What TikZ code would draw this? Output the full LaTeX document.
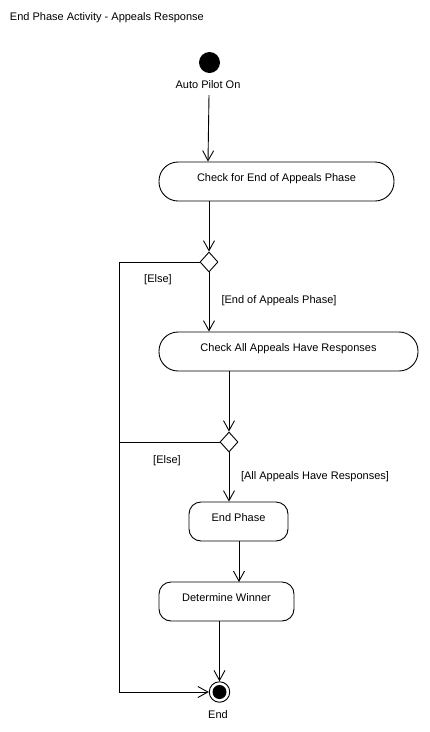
\documentclass[tikz,border=0pt]{standalone}
\usepackage{fontspec}
\setmainfont{Liberation Sans}
\usetikzlibrary{arrows.meta,shapes.geometric}
\begin{document}
\begin{tikzpicture}[x=1pt,y=-1pt,line width=0.9pt,
  every node/.style={font=\fontsize{11}{13}\selectfont,inner sep=0pt},
  bigact/.style={draw,rounded corners=19pt,minimum height=39pt,align=center,text height=8pt,text depth=8.5pt},
  smallact/.style={draw,rounded corners=12pt,minimum height=39pt,align=center,text height=8pt,text depth=8.5pt},
  dec/.style={draw,diamond,minimum width=18pt,minimum height=20pt,inner sep=0pt},
  arr/.style={-{Straight Barb[length=10pt,width=11pt,line width=0.9pt]}},
  lbl/.style={text=black}]
\fill[white] (0,0) rectangle (430,732);
\useasboundingbox (0,0) rectangle (430,732);
\node[anchor=west,lbl] (title) at (9.5,18) {End Phase Activity - Appeals Response};
\node[circle,fill=black,minimum size=21pt] (start) at (209.5,62.5) {};
\node[lbl] (startlbl) at (208,85) {Auto Pilot On};
\node[bigact,minimum width=235pt] (b1) at (276.5,181.5) {Check for End of Appeals Phase};
\node[dec] (d1) at (209,262) {};
\node[bigact,minimum width=259pt] (b2) at (288.5,351.5) {Check All Appeals Have Responses};
\node[dec] (d2) at (229,442) {};
\node[smallact,minimum width=99pt] (b3) at (238.5,521.5) {End Phase};
\node[smallact,minimum width=135pt] (b4) at (226.5,601.5) {Determine Winner};
\node[circle,draw,fill=white,minimum size=20.5pt] (fin) at (219.5,692) {};
\node[circle,fill=black,minimum size=14pt] (fininner) at (fin.center) {};
\node[lbl] (finlbl) at (218,715) {End};
\node[lbl] (e1) at (158,280) {[Else]};
\node[lbl] (g1) at (279,301) {[End of Appeals Phase]};
\node[lbl] (e2) at (167,461) {[Else]};
\node[lbl] (g2) at (315,477) {[All Appeals Have Responses]};
\coordinate (lx) at (119,0);
\draw[arr] (209,95) -- (startlbl.south |- b1.north);
\draw[arr] (d1.north |- b1.south) -- (d1.north);
\draw[arr] (d1.south) -- (d1.south |- b2.north);
\draw[arr] (d2.north |- b2.south) -- (d2.north);
\draw[arr] (d2.south) -- (d2.south |- b3.north);
\draw[arr] (239,541) -- (239,582);
\draw[arr] (fin.north |- b4.south) -- (fin.north);
\draw[arr] (d1.west) -- (lx |- d1.west) -- (lx |- fin.west) -- (fin.west);
\draw (d2.west) -- (lx |- d2.west);
\end{tikzpicture}
\end{document}
